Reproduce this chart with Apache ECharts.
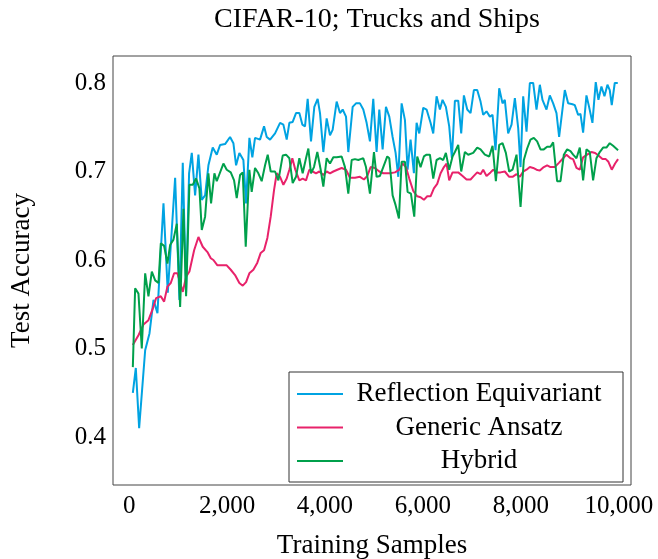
<!DOCTYPE html>
<html>
<head>
<meta charset="utf-8">
<script src="https://cdn.jsdelivr.net/npm/echarts@6/dist/echarts.min.js"></script>
<style>html,body{margin:0;padding:0;background:#fff;}#c{width:658px;height:559px;}</style>
</head>
<body>
<div id="c"></div>
<script>
const xTicks = [0, 2000, 4000, 6000, 8000, 10000];
const yTicks = [0.4, 0.5, 0.6, 0.7, 0.8];
const seriesNames = ['Reflection Equivariant', 'Generic Ansatz', 'Hybrid'];

const reflX = [75,136,204,327,415,497,578,633,701,789,939,1027,1095,1163,1224,1279,1347,1415,1483,1551,1619,1707,1789,1857,1959,2061,2129,2184,2251,2333,2388,2456,2516,2571,2673,2755,2810,2878,2980,3082,3150,3218,3272,3340,3408,3476,3537,3592,3646,3714,3782,3850,3898,3966,4034,4102,4156,4238,4306,4361,4429,4476,4565,4633,4714,4782,4850,4918,4986,5054,5109,5177,5245,5313,5381,5442,5497,5565,5633,5687,5748,5816,5871,5925,6007,6075,6156,6211,6279,6347,6401,6469,6537,6592,6653,6721,6782,6837,6905,6973,7041,7109,7177,7231,7299,7367,7422,7483,7558,7626,7673,7741,7810,7878,7946,7994,8048,8116,8184,8252,8320,8388,8442,8524,8592,8660,8728,8782,8898,8966,9055,9102,9170,9218,9272,9340,9394,9462,9530,9585,9646,9708,9769,9816,9857,9918,9980];
const reflY = [.450,.478,.410,.498,.517,.555,.540,.597,.664,.563,.693,.555,.710,.563,.698,.721,.673,.719,.668,.673,.707,.727,.719,.730,.731,.739,.732,.707,.721,.713,.664,.738,.716,.738,.736,.751,.739,.736,.743,.755,.753,.736,.755,.756,.766,.766,.753,.751,.782,.734,.773,.782,.766,.722,.760,.741,.747,.779,.766,.770,.762,.722,.773,.777,.777,.770,.755,.734,.782,.722,.770,.725,.773,.762,.739,.721,.694,.777,.758,.702,.736,.698,.755,.743,.772,.770,.755,.743,.785,.770,.781,.773,.751,.715,.780,.780,.743,.786,.770,.766,.792,.792,.779,.764,.768,.762,.764,.724,.794,.777,.781,.743,.753,.783,.749,.705,.785,.745,.800,.800,.770,.798,.781,.770,.786,.777,.766,.739,.792,.777,.776,.775,.764,.765,.744,.786,.773,.755,.801,.781,.796,.785,.798,.792,.775,.800,.800];

const genX = [75,190,292,394,483,551,646,714,782,850,918,986,1095,1163,1231,1327,1415,1503,1599,1667,1721,1803,1891,1993,2075,2163,2251,2320,2388,2455,2537,2618,2687,2755,2823,2891,2959,3014,3082,3150,3218,3272,3333,3394,3476,3544,3612,3680,3748,3816,3884,3966,4034,4102,4170,4252,4340,4429,4510,4612,4714,4796,4864,4932,5020,5109,5190,5327,5429,5517,5585,5653,5721,5803,5884,5952,6020,6088,6156,6224,6292,6361,6429,6483,6537,6605,6721,6810,6891,6973,7041,7109,7177,7231,7299,7381,7435,7503,7585,7673,7762,7830,7912,7980,8048,8116,8184,8252,8320,8388,8469,8537,8605,8694,8782,8864,8932,9014,9068,9136,9204,9272,9354,9442,9517,9585,9667,9735,9789,9857,9925,9986];
const genY = [.504,.515,.527,.532,.545,.557,.559,.553,.570,.574,.585,.585,.564,.581,.587,.611,.626,.615,.609,.602,.600,.594,.594,.594,.589,.583,.574,.571,.575,.585,.589,.597,.608,.611,.625,.649,.679,.698,.694,.685,.692,.702,.715,.702,.690,.692,.690,.702,.700,.698,.700,.696,.700,.698,.700,.702,.704,.702,.693,.693,.694,.691,.695,.705,.704,.700,.698,.698,.699,.702,.709,.705,.692,.678,.672,.671,.668,.672,.672,.681,.686,.698,.705,.709,.690,.699,.699,.695,.691,.691,.695,.699,.697,.702,.695,.699,.702,.699,.699,.700,.694,.694,.697,.694,.700,.702,.705,.704,.702,.701,.705,.707,.705,.705,.710,.715,.719,.715,.714,.704,.702,.716,.719,.722,.721,.718,.714,.714,.711,.702,.709,.714];

const hybX = [75,122,190,258,327,394,463,531,599,646,714,782,837,905,973,1041,1109,1163,1231,1299,1367,1435,1483,1551,1619,1673,1741,1789,1925,1993,2075,2143,2197,2265,2320,2381,2455,2503,2571,2639,2707,2776,2830,2891,2980,3048,3136,3204,3272,3340,3408,3476,3544,3612,3660,3714,3775,3843,3912,3966,4034,4102,4170,4238,4340,4408,4476,4545,4612,4680,4728,4782,4837,4918,5000,5054,5122,5190,5272,5313,5381,5442,5510,5565,5633,5687,5755,5823,5884,5952,6020,6075,6143,6211,6279,6347,6415,6469,6537,6605,6653,6721,6782,6857,6925,7027,7109,7177,7265,7354,7422,7490,7558,7626,7694,7762,7830,7912,7994,8061,8129,8197,8265,8333,8401,8469,8537,8605,8660,8741,8810,8878,8946,9014,9068,9136,9204,9272,9340,9408,9476,9544,9612,9680,9748,9816,9884,9986];
const hybY = [.479,.568,.562,.500,.585,.559,.587,.577,.574,.619,.616,.596,.617,.623,.641,.547,.658,.559,.685,.685,.692,.681,.634,.649,.698,.664,.698,.689,.709,.702,.699,.690,.670,.696,.699,.615,.702,.677,.704,.698,.689,.707,.719,.700,.700,.690,.718,.719,.715,.687,.694,.715,.698,.715,.726,.698,.705,.722,.702,.683,.715,.709,.716,.716,.717,.705,.675,.713,.714,.713,.714,.715,.705,.675,.722,.694,.695,.705,.717,.715,.673,.662,.647,.711,.711,.677,.675,.649,.717,.705,.717,.719,.719,.692,.713,.715,.713,.721,.702,.717,.722,.730,.700,.722,.719,.721,.727,.725,.719,.717,.729,.689,.730,.732,.721,.700,.702,.719,.660,.713,.726,.736,.738,.734,.725,.725,.728,.728,.733,.689,.689,.719,.725,.723,.719,.715,.727,.690,.725,.722,.690,.715,.722,.727,.727,.732,.729,.724];

function zip(xs, ys) {
  const n = Math.min(xs.length, ys.length);
  const out = [];
  for (let i = 0; i < n; i++) out.push([xs[i], ys[i]]);
  return out;
}

const FONT = 'Liberation Serif';
const colors = ['#00A3E2', '#E8226A', '#00A04B'];
const chart = echarts.init(document.getElementById('c'), null, {renderer: 'canvas'});

const mk = (name, xs, ys, color) => ({
  name: name, type: 'line', data: zip(xs, ys), symbol: 'none', showSymbol: false,
  lineStyle: {color: color, width: 2}, itemStyle: {color: color}, z: 2
});

chart.setOption({
  animation: false,
  backgroundColor: '#fff',
  title: {
    text: 'CIFAR-10; Trucks and Ships', left: 372, top: 1, textAlign: 'center',
    textStyle: {fontFamily: FONT, fontSize: 28, fontWeight: 'normal', color: '#000'}
  },
  grid: {left: 113, right: 27, top: 56, bottom: 74, containLabel: false, outerBoundsMode: 'none',
         show: true, borderColor: '#444', borderWidth: 1, backgroundColor: 'transparent'},
  xAxis: {
    type: 'value', min: -330, max: 10250,
    name: 'Training Samples', nameLocation: 'middle', nameGap: 47,
    nameTextStyle: {fontFamily: FONT, fontSize: 27, color: '#000'},
    axisLine: {show: false}, axisTick: {show: false}, splitLine: {show: false},
    axisLabel: {
      customValues: xTicks, margin: 9, color: '#000', fontFamily: FONT, fontSize: 25,
      formatter: v => String(v).replace(/\B(?=(\d{3})+(?!\d))/g, ',')
    }
  },
  yAxis: {
    type: 'value', min: 0.3458, max: 0.8305,
    name: 'Test Accuracy', nameLocation: 'middle', nameGap: 78, nameRotate: 90,
    nameTextStyle: {fontFamily: FONT, fontSize: 27, color: '#000'},
    axisLine: {show: false}, axisTick: {show: false}, splitLine: {show: false},
    axisLabel: {
      customValues: yTicks, margin: 7, color: '#000', fontFamily: FONT, fontSize: 25,
      formatter: v => Number(v).toFixed(1)
    }
  },
  legend: {
    orient: 'vertical', left: 289, top: 372,
    padding: [7, 13, 6, 8], itemGap: 3.5,
    itemWidth: 46, itemHeight: 2, icon: 'rect',
    borderColor: '#333', borderWidth: 1, backgroundColor: '#fff',
    data: seriesNames,
    formatter: n => '{a|' + n + '}',
    textStyle: {
      fontFamily: FONT, fontSize: 27, color: '#000',
      rich: {a: {width: 262, height: 30, lineHeight: 30, align: 'center', fontFamily: FONT, fontSize: 27, color: '#000'}}
    }
  },
  series: [
    mk(seriesNames[0], reflX, reflY, colors[0]),
    mk(seriesNames[1], genX, genY, colors[1]),
    mk(seriesNames[2], hybX, hybY, colors[2])
  ]
});
</script>
</body>
</html>
